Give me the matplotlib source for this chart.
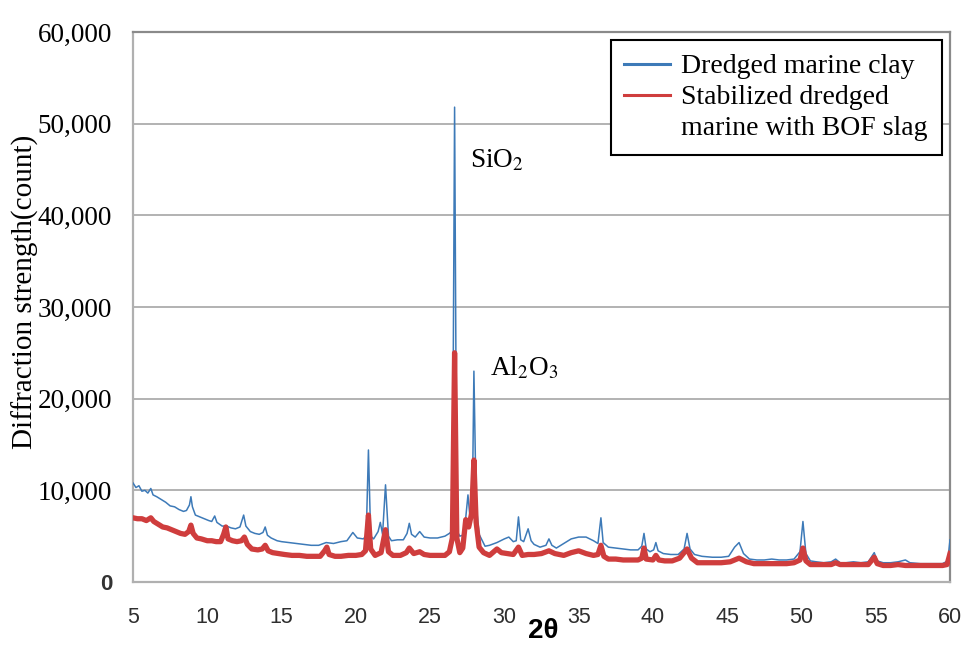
import matplotlib
matplotlib.use("Agg")
import matplotlib.pyplot as plt
from matplotlib.lines import Line2D

# XRD patterns, 2-theta (deg) vs counts
clay_2theta = [5.0, 5.2, 5.4, 5.6, 5.8, 6.0, 6.2, 6.35, 6.6, 6.9, 7.2, 7.5, 7.8, 8.1, 8.4, 8.6, 8.8, 8.9,
               9.0, 9.2, 9.5, 9.8, 10.1, 10.3, 10.5, 10.65, 11.0, 11.3, 11.6, 11.9, 12.2, 12.45, 12.6,
               12.9, 13.2, 13.5, 13.75, 13.9, 14.05, 14.3, 14.7, 15.0, 15.5, 16.0, 16.5, 17.0, 17.5,
               18.0, 18.5, 19.0, 19.4, 19.8, 20.1, 20.5, 20.7, 20.85, 21.0, 21.2, 21.5, 21.65, 21.8,
               22.0, 22.2, 22.4, 22.8, 23.2, 23.45, 23.6, 23.75, 24.0, 24.3, 24.6, 25.0, 25.5, 26.0,
               26.3, 26.5, 26.65, 26.8, 27.0, 27.2, 27.4, 27.55, 27.7, 27.85, 27.95, 28.1, 28.3, 28.7,
               29.0, 29.5, 30.0, 30.3, 30.6, 30.8, 30.95, 31.1, 31.3, 31.6, 31.8, 32.0, 32.4, 32.8,
               33.0, 33.2, 33.5, 34.0, 34.5, 35.0, 35.5, 36.0, 36.3, 36.5, 36.65, 37.0, 37.5, 38.0,
               38.5, 39.0, 39.25, 39.4, 39.55, 39.8, 40.05, 40.2, 40.35, 40.7, 41.2, 41.7, 42.1, 42.3,
               42.5, 42.8, 43.3, 44.0, 44.6, 45.1, 45.5, 45.8, 46.1, 46.5, 47.0, 47.5, 48.0, 48.5,
               49.0, 49.5, 49.9, 50.1, 50.3, 50.6, 51.0, 51.5, 52.0, 52.3, 52.6, 53.0, 53.5, 54.0,
               54.5, 54.9, 55.1, 55.5, 56.0, 56.5, 57.0, 57.3, 58.0, 58.5, 59.0, 59.5, 59.85, 60.0]
clay_counts = [10800, 10300, 10500, 9900, 10000, 9700, 10200, 9500, 9300, 9000, 8700, 8300, 8200, 7900,
               7700, 7800, 8400, 9300, 8200, 7300, 7100, 6900, 6700, 6600, 7200, 6500, 6100, 6100, 5900,
               5800, 6000, 7300, 6100, 5500, 5300, 5200, 5400, 6000, 5100, 4800, 4500, 4400, 4300, 4200,
               4100, 4000, 4000, 4300, 4200, 4400, 4500, 5400, 4800, 4700, 5000, 14400, 5000, 4700, 5500,
               6500, 5200, 10600, 5000, 4500, 4600, 4600, 5300, 6400, 5200, 4900, 5500, 4900, 4800, 4800,
               5000, 5300, 5600, 51800, 5600, 5000, 5100, 7000, 9500, 6800, 9000, 23000, 8500, 5200, 3900,
               4000, 4300, 4700, 4900, 4400, 4500, 7100, 4600, 4400, 5800, 4500, 4100, 3800, 4000, 4700,
               4000, 3700, 4200, 4700, 4900, 4900, 4500, 4200, 7000, 4300, 3800, 3700, 3600, 3500, 3500,
               3900, 5300, 3600, 3300, 3500, 4300, 3400, 3100, 3000, 3000, 3600, 5300, 3600, 3000, 2800,
               2700, 2700, 2800, 3800, 4300, 3100, 2500, 2400, 2400, 2500, 2400, 2400, 2500, 3300, 6600,
               3100, 2300, 2200, 2100, 2200, 2500, 2100, 2100, 2200, 2100, 2200, 3200, 2300, 2100, 2100,
               2200, 2400, 2100, 2000, 2000, 2000, 2000, 2300, 4600]

slag_2theta = [5.0, 5.3, 5.6, 5.9, 6.2, 6.4, 6.7, 7.0, 7.3, 7.6, 7.9, 8.2, 8.5, 8.75, 8.9, 9.05, 9.3, 9.6,
               10.0, 10.3, 10.6, 10.9, 11.1, 11.25, 11.4, 11.7, 12.0, 12.3, 12.5, 12.7, 13.0, 13.4, 13.7,
               13.9, 14.1, 14.4, 14.8, 15.2, 15.7, 16.2, 16.7, 17.2, 17.6, 17.9, 18.05, 18.2, 18.6, 19.0,
               19.5, 20.0, 20.4, 20.65, 20.85, 21.0, 21.3, 21.7, 22.0, 22.2, 22.5, 23.0, 23.4, 23.6, 23.9,
               24.3, 24.6, 25.0, 25.5, 26.0, 26.3, 26.5, 26.65, 26.8, 27.0, 27.2, 27.4, 27.6, 27.8, 27.95,
               28.1, 28.3, 28.6, 29.0, 29.5, 29.8, 30.2, 30.6, 30.95, 31.2, 31.6, 32.0, 32.5, 33.0, 33.4,
               34.0, 34.5, 35.0, 35.5, 36.0, 36.3, 36.5, 36.7, 37.0, 37.5, 38.0, 38.5, 39.0, 39.25, 39.4,
               39.55, 40.0, 40.2, 40.4, 40.8, 41.3, 41.8, 42.3, 42.6, 43.0, 43.5, 44.0, 44.6, 45.2, 45.8,
               46.3, 46.8, 47.5, 48.0, 48.5, 49.0, 49.5, 49.9, 50.1, 50.3, 50.6, 51.0, 51.5, 52.0, 52.3,
               52.6, 53.0, 53.5, 54.0, 54.5, 54.9, 55.1, 55.5, 56.0, 56.5, 57.0, 57.5, 58.0, 58.5, 59.0,
               59.5, 59.8, 60.0]
slag_counts = [7000, 6900, 6900, 6700, 7000, 6600, 6300, 6000, 5900, 5700, 5500, 5300, 5200, 5500, 6200,
               5300, 4800, 4700, 4500, 4500, 4400, 4400, 5200, 6000, 4700, 4500, 4400, 4500, 4900, 4100,
               3600, 3500, 3600, 4000, 3400, 3200, 3100, 3000, 2900, 2900, 2800, 2800, 2800, 3400, 3800,
               3000, 2800, 2800, 2900, 2900, 3000, 3400, 7300, 3600, 2900, 3200, 5700, 3300, 2900, 2900,
               3200, 3700, 3100, 3300, 3000, 2900, 2900, 2900, 3300, 4800, 25000, 4800, 3200, 3700, 6800,
               6000, 7500, 13300, 6500, 3800, 3200, 2900, 3600, 3200, 3100, 3000, 3800, 2900, 3000, 3000,
               3100, 3400, 3100, 2900, 3200, 3400, 3100, 2900, 3000, 4000, 2800, 2500, 2500, 2400, 2400,
               2400, 2600, 3700, 2500, 2400, 2900, 2400, 2300, 2300, 2600, 3600, 2600, 2100, 2100, 2100,
               2100, 2200, 2600, 2200, 2000, 2000, 2000, 2000, 2000, 2100, 2400, 3700, 2300, 1900, 1900,
               1900, 1900, 2100, 1900, 1900, 1900, 1900, 1900, 2700, 2000, 1800, 1800, 1900, 1800, 1800,
               1800, 1800, 1800, 1800, 1900, 3100]

x_ticks = [5, 10, 15, 20, 25, 30, 35, 40, 45, 50, 55, 60]
y_ticks = [0, 10000, 20000, 30000, 40000, 50000, 60000]
y_tick_labels = ["0", "10,000", "20,000", "30,000", "40,000", "50,000", "60,000"]

blue = "#3d7ab8"
red = "#cf3d3d"
serif = ["Liberation Serif", "DejaVu Serif"]
sans = ["Liberation Sans", "DejaVu Sans"]

plt.rcParams["mathtext.fontset"] = "stix"

fig = plt.figure(figsize=(9.63, 6.46), dpi=100)
ax = fig.add_axes([0.1381, 0.0991, 0.8484, 0.8514])

ax.plot(clay_2theta, clay_counts, color=blue, lw=1.1, zorder=3)
ax.plot(slag_2theta, slag_counts, color=red, lw=3.8, solid_joinstyle="round", zorder=4)

ax.set_xlim(5, 60)
ax.set_ylim(0, 60000)
ax.set_xticks(x_ticks)
ax.set_xticklabels([str(t) for t in x_ticks], family=sans, fontsize=15.5, color="#2e2e2e")
ax.set_yticks(y_ticks)
ax.set_yticklabels(y_tick_labels, family=serif, fontsize=19.5, color="black")
zero = ax.get_yticklabels()[0]
zero.set_family(sans)
zero.set_fontsize(16)
zero.set_fontweight("bold")
zero.set_color("#333333")
ax.tick_params(axis="both", length=0)
ax.tick_params(axis="x", pad=18)
ax.tick_params(axis="y", pad=15)

ax.yaxis.grid(True, color="#a6a6a6", lw=1.2)
ax.set_axisbelow(True)
for side, c in [("left", "#b0b0b0"), ("bottom", "#b0b0b0"), ("top", "#8a8a8a"), ("right", "#8a8a8a")]:
    ax.spines[side].set_color(c)
    ax.spines[side].set_linewidth(1.6)

# axis titles
fig.text(543 / 963, 1.5 / 646, "2θ", ha="center", va="bottom",
         family=sans, fontsize=20, fontweight="bold")
fig.text(25 / 963, 1 - 292 / 646, "Diffraction strength(count)", rotation=90,
         ha="center", va="center", family=serif, fontsize=21)

ax.text(27.69, 46000, r"SiO$_2$", family=serif, fontsize=19.5, va="center")
ax.text(29.04, 23300, r"Al$_2$O$_3$", family=serif, fontsize=19.5, va="center")

handles = [Line2D([], [], color=blue, lw=2.2),
           Line2D([], [], color=red, lw=2.2),
           Line2D([], [], color="none")]
labels = ["Dredged marine clay", "Stabilized dredged", "marine with BOF slag"]
leg = ax.legend(handles, labels, loc="upper right", bbox_to_anchor=(0.990, 0.9855),
                borderaxespad=0, prop={"family": serif, "size": 20}, handlelength=1.65,
                handletextpad=0.4, labelspacing=0.2, borderpad=0.5, fancybox=False,
                framealpha=1, edgecolor="black")
leg.get_frame().set_linewidth(1.5)
leg.set_zorder(6)

fig.savefig("out.png", dpi=100)
